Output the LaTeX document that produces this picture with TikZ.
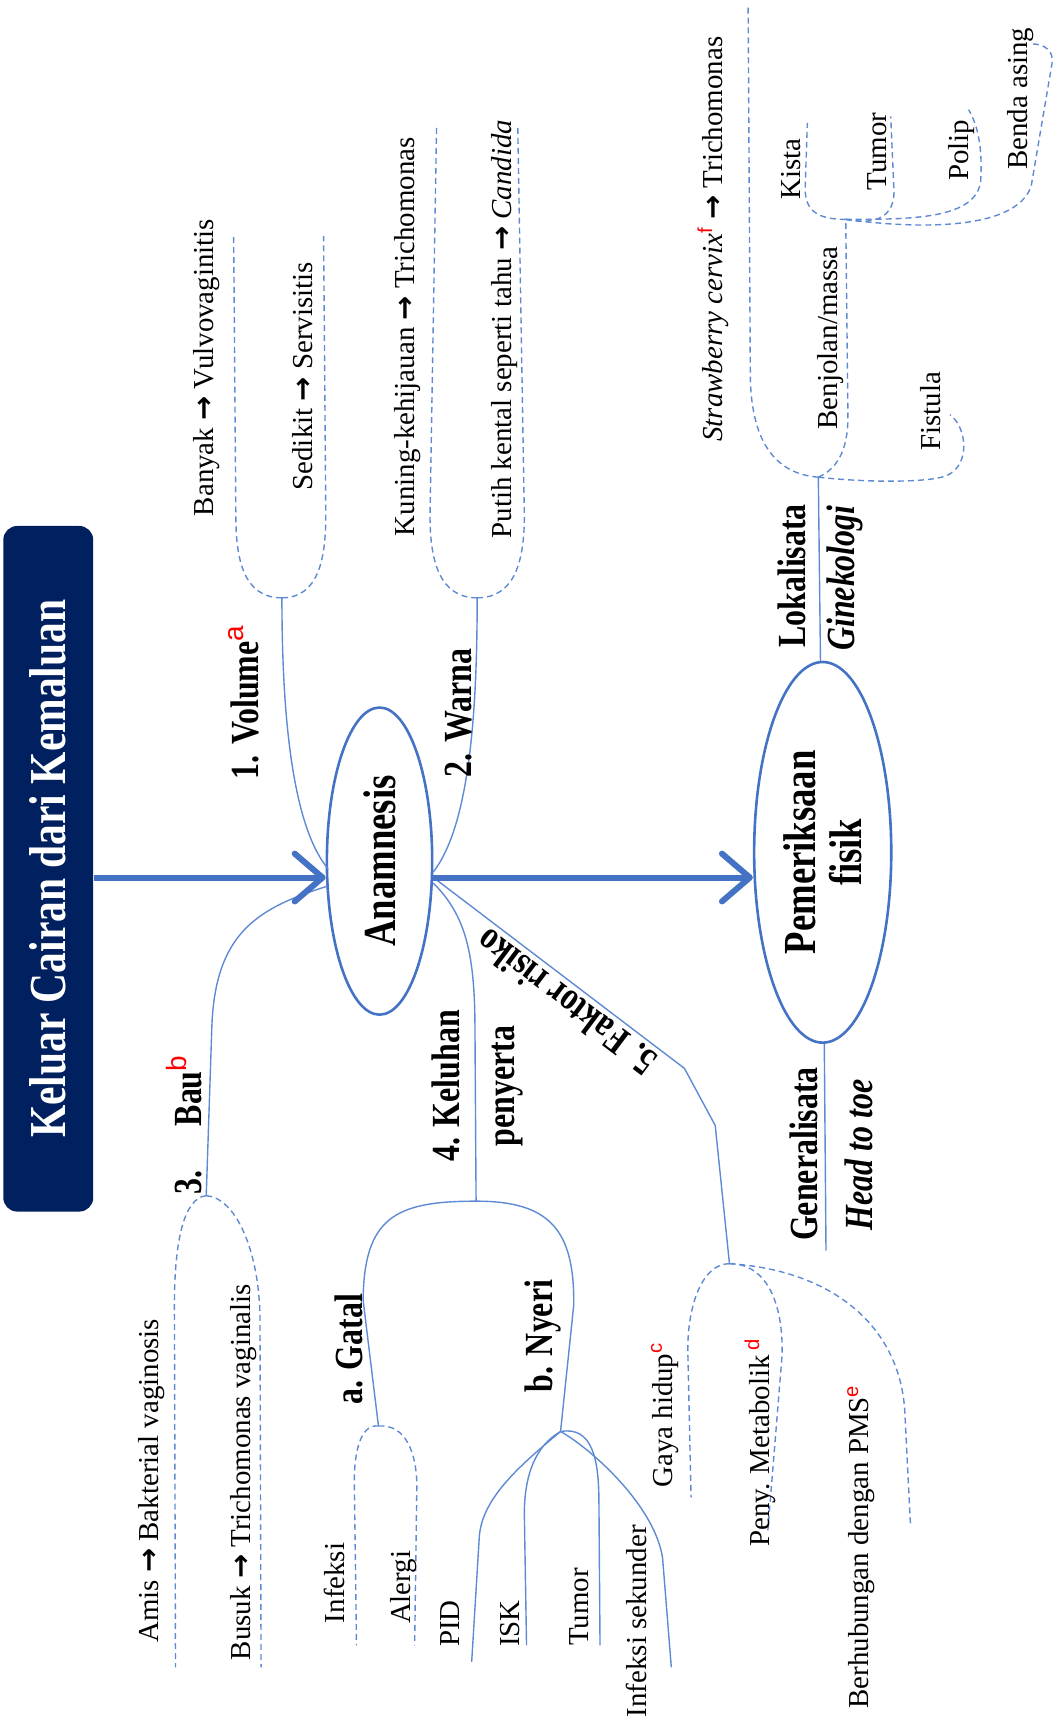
\documentclass[tikz,border=0pt]{standalone}
\usepackage{fontspec}
\setmainfont{Liberation Serif}
\setsansfont{Liberation Sans}
\newfontfamily\condfont[FakeStretch=0.8]{Liberation Serif}
\newfontfamily\arrowfont{DejaVu Sans}
\usetikzlibrary{arrows.meta, shapes.geometric}

\definecolor{mainBlue}{RGB}{68,114,196}
\definecolor{lineBlue}{RGB}{94,138,212}
\definecolor{titleNavy}{RGB}{0,32,96}
\definecolor{supRed}{RGB}{255,0,0}

\newcommand{\thenarrow}{{\arrowfont\bfseries →}}
\newcommand{\supnote}[1]{\textsuperscript{\sffamily\mdseries\upshape\color{supRed}#1}}

\begin{document}
\begin{tikzpicture}[
        x=0.55pt, y=-0.55pt,
        titleBox/.style={
            rotate=90,
            rounded corners=7pt,
            fill=titleNavy,
            text=white,
            minimum width=343.75pt,
            minimum height=45.1pt,
            font=\condfont\bfseries\fontsize{26}{30}\selectfont
        },
        bubble/.style={
            ellipse,
            rotate=90,
            draw=mainBlue,
            line width=1.3pt,
            inner sep=0pt,
            align=center,
            font=\condfont\bfseries\fontsize{23}{23}\selectfont
        },
        boldText/.style={
            inner sep=0pt,
            align=center,
            font=\condfont\bfseries\fontsize{20}{27.5}\selectfont
        },
        branchLabel/.style={
            boldText,
            rotate=90
        },
        slantLabel/.style={
            branchLabel,
            font=\condfont\bfseries\itshape\fontsize{20}{27.5}\selectfont
        },
        leafLabel/.style={
            rotate=90,
            inner sep=0pt,
            font=\fontsize{14.5}{17}\selectfont
        },
        bigArrow/.style={
            draw=mainBlue,
            line width=3pt,
            -{Straight Barb[length=14pt, width=24pt, round]}
        },
        thinLine/.style={
            draw=lineBlue,
            line width=0.7pt
        },
        dashLine/.style={
            draw=lineBlue,
            line width=0.7pt,
            dash pattern=on 3pt off 2pt
        }
    ]

        \useasboundingbox (0,0) rectangle (965,1568);

        % Main nodes
        \node[titleBox] (title) at (44,792) {Keluar Cairan dari Kemaluan};
        \node[bubble, minimum width=154pt, minimum height=52.8pt] (ana) at (346,785) {Anamnesis};
        \node[bubble, minimum width=190.85pt, minimum height=68.75pt] (pf) at (750,777) {Pemeriksaan\\fisik};

        % Points on the ellipses and junctions
        \coordinate (anaL) at (ana.north |- 0,800);
        \coordinate (anaR) at (ana.south |- 0,800);
        \coordinate (pfL) at (pf.north |- 0,800);
        \coordinate (volS) at (299,792);
        \coordinate (bauS) at (298,808);
        \coordinate (warS) at (395,795);
        \coordinate (kelS) at (395,805);

        \coordinate (volJ) at (257,545);
        \coordinate (warJ) at (435,545);
        \coordinate (bauJ) at (188,1090);
        \coordinate (kelJ) at (434,1095);
        \coordinate (gatJ) at (345,1300);
        \coordinate (nyeJ) at (511,1305);
        \coordinate (fakJ) at (665,1152);
        \coordinate (lokJ) at (746,435);
        \coordinate (genE) at (753,1140);
        \coordinate (benJ) at (771,200);

        % Free ends
        \coordinate (banyakE) at (213,215);
        \coordinate (sedikitE) at (295,215);
        \coordinate (kuningE) at (398,115);
        \coordinate (putihE) at (472,115);
        \coordinate (amisE) at (160,1520);
        \coordinate (busukE) at (238,1520);
        \coordinate (infeksiE) at (325,1500);
        \coordinate (alergiE) at (378,1500);
        \coordinate (pidE) at (430,1515);
        \coordinate (iskE) at (480,1500);
        \coordinate (tumorE) at (547,1500);
        \coordinate (sekunderE) at (612,1520);
        \coordinate (gayaE) at (630,1365);
        \coordinate (penyE) at (700,1395);
        \coordinate (pmsE) at (830,1390);
        \coordinate (strawE) at (682,5);
        \coordinate (fistulaE) at (866,378);
        \coordinate (kistaE) at (736,112);
        \coordinate (tumorTopE) at (812,106);
        \coordinate (polipE) at (883,100);
        \coordinate (bendaE) at (940,40);

        % Branches of Anamnesis
        \draw[thinLine] (volS) .. controls (266,752) and (257,650) .. (volJ);
        \draw[thinLine] (warS) .. controls (428,752) and (435,650) .. (warJ);
        \draw[thinLine] (bauS) .. controls (235,828) and (195,850) .. (193,940) -- (bauJ);
        \draw[thinLine] (kelS) .. controls (425,835) and (433,870) .. (433,940) -- (kelJ);
        \draw[thinLine] (anaR) -- (624,974) -- (652,1026) -- (fakJ);
        \draw[thinLine] (kelJ) .. controls (360,1095) and (332,1110) .. (331,1185) -- (gatJ);
        \draw[thinLine] (kelJ) .. controls (500,1095) and (524,1120) .. (523,1190) -- (nyeJ);

        \draw[dashLine] (volJ) .. controls (222,545) and (215,510) .. (215,470) -- (banyakE);
        \draw[dashLine] (volJ) .. controls (290,545) and (297,510) .. (297,470) -- (sedikitE);
        \draw[dashLine] (warJ) .. controls (400,545) and (392,510) .. (392,470) -- (kuningE);
        \draw[dashLine] (warJ) .. controls (470,545) and (478,510) .. (478,470) -- (putihE);
        \draw[dashLine] (bauJ) .. controls (168,1092) and (159,1130) .. (159,1190) -- (amisE);
        \draw[dashLine] (bauJ) .. controls (215,1092) and (236,1140) .. (237,1200) -- (busukE);
        \draw[dashLine] (gatJ) .. controls (330,1298) and (323,1320) .. (323,1350) -- (infeksiE);
        \draw[dashLine] (gatJ) .. controls (370,1298) and (380,1325) .. (380,1355) -- (alergiE);

        \draw[thinLine] (nyeJ) .. controls (475,1335) and (440,1365) .. (437,1400) -- (pidE);
        \draw[thinLine] (nyeJ) .. controls (488,1318) and (478,1345) .. (478,1380) -- (iskE);
        \draw[thinLine] (nyeJ) .. controls (540,1300) and (546,1330) .. (546,1370) -- (tumorE);
        \draw[thinLine] (nyeJ) .. controls (535,1318) and (596,1370) .. (604,1420) -- (sekunderE);

        \draw[dashLine] (fakJ) .. controls (640,1152) and (627,1190) .. (627,1230) -- (gayaE);
        \draw[dashLine] (fakJ) .. controls (700,1152) and (714,1190) .. (713,1235) -- (penyE);
        \draw[dashLine] (fakJ) .. controls (760,1158) and (822,1210) .. (825,1290) -- (pmsE);

        % Branches of Pemeriksaan fisik
        \draw[thinLine] (pf) -- (lokJ);
        \draw[thinLine] (pf) -- (genE);
        \draw[dashLine] (lokJ) .. controls (705,432) and (684,400) .. (684,340) -- (strawE);
        \draw[dashLine] (lokJ) .. controls (762,428) and (773,412) .. (773,380) -- (benJ);
        \draw[dashLine] (lokJ) .. controls (790,440) and (845,440) .. (862,434) .. controls (885,425) and (882,390) .. (fistulaE);
        \draw[dashLine] (benJ) .. controls (745,200) and (734,192) .. (734,172) -- (kistaE);
        \draw[dashLine] (benJ) .. controls (800,206) and (815,196) .. (815,175) -- (tumorTopE);
        \draw[dashLine] (benJ) .. controls (830,200) and (890,200) .. (894,165) .. controls (896,130) and (890,112) .. (polipE);
        \draw[dashLine] (benJ) .. controls (830,208) and (925,212) .. (940,170) -- (959,58) .. controls (961,46) and (952,40) .. (bendaE);

        % Main arrows
        \draw[bigArrow] (title.south |- anaL) -- (anaL);
        \draw[bigArrow] (anaR) -- (pfL);

        % Branch labels
        \node[branchLabel] (volL) at (222,640) {1. Volume\supnote{a}};
        \node[branchLabel] (warL) at (418,650) {2. Warna};
        \node[branchLabel] (bauL) at (168,1025) {3.\hspace{1.1em}Bau\supnote{b}};
        \node[branchLabel] (kelL) at (435,990) {4. Keluhan\\penyerta};
        \node[branchLabel] (gatL) at (318,1230) {a. Gatal};
        \node[branchLabel] (nyeL) at (495,1218) {b. Nyeri};
        \node[boldText, rotate=143] (fakL) at (516,914) {5. Faktor risiko};
        \node[branchLabel] (lokL) at (722,525) {Lokalisata};
        \node[slantLabel] (ginL) at (770,527) {Ginekologi};
        \node[branchLabel] (genL) at (733,1052) {Generalisata};
        \node[slantLabel] (headL) at (783,1053) {Head to toe};

        % Leaf labels
        \node[leafLabel] (banyakL) at (188,335) {Banyak \thenarrow{} Vulvovaginitis};
        \node[leafLabel] (sedikitL) at (276,343) {Sedikit \thenarrow{} Servisitis};
        \node[leafLabel] (kuningL) at (372,307) {Kuning-kehijauan \thenarrow{} Trichomonas};
        \node[leafLabel] (putihL) at (460,300) {Putih kental seperti tahu \thenarrow{} \textit{Candida}};
        \node[leafLabel] (amisL) at (138,1350) {Amis \thenarrow{} Bakterial vaginosis};
        \node[leafLabel] (busukL) at (222,1342) {Busuk \thenarrow{} Trichomonas vaginalis};
        \node[leafLabel] (infeksiL) at (305,1443) {Infeksi};
        \node[leafLabel] (alergiL) at (368,1447) {Alergi};
        \node[leafLabel] (pidL) at (410,1480) {PID};
        \node[leafLabel] (iskL) at (465,1480) {ISK};
        \node[leafLabel] (tumorL) at (528,1465) {Tumor};
        \node[leafLabel] (sekunderL) at (580,1478) {Infeksi sekunder};
        \node[leafLabel] (gayaL) at (606,1290) {Gaya hidup\supnote{c}};
        \node[leafLabel] (penyL) at (693,1315) {Peny. Metabolik\,\supnote{d}};
        \node[leafLabel] (pmsL) at (785,1410) {Berhubungan dengan PMS\supnote{e}};
        \node[leafLabel] (strawL) at (650,218) {\textit{Strawberry cervix}\supnote{f} \thenarrow{} Trichomonas};
        \node[leafLabel] (benjolanL) at (757,308) {Benjolan/massa};
        \node[leafLabel] (kistaL) at (721,154) {Kista};
        \node[leafLabel] (tumorTopL) at (800,138) {Tumor};
        \node[leafLabel] (polipL) at (877,137) {Polip};
        \node[leafLabel] (bendaL) at (930,90) {Benda asing};
        \node[leafLabel] (fistulaL) at (848,375) {Fistula};

    \end{tikzpicture}
\end{document}
